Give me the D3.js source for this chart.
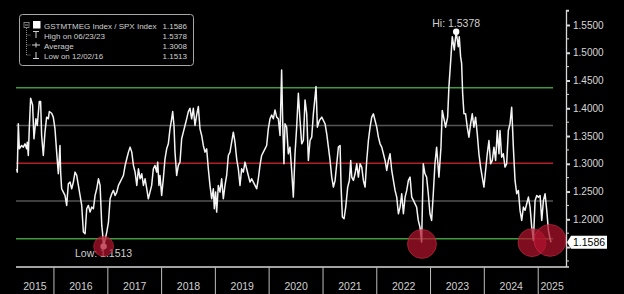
<!DOCTYPE html>
<html>
<head>
<meta charset="utf-8">
<script src="https://cdn.jsdelivr.net/npm/d3@7"></script>
<style>
  body { margin: 0; background: #000; }
  svg { display: block; font-family: "Liberation Sans", Arial, sans-serif; }
  .yAxis path, .yAxis line { stroke: #d8d8d8; }
  .yAxis text { fill: #d8d8d8; font-size: 10px; }
</style>
</head>
<body>
<div id="chart"></div>
<script>

// decimal years and GSTMTMEG / SPX ratio values
var yearFrac = [
  2015.306,2015.318,2015.337,2015.356,2015.399,2015.430,2015.461,2015.492,2015.504,2015.523,
  2015.541,2015.566,2015.603,2015.628,2015.665,2015.690,2015.727,2015.752,2015.771,2015.802,
  2015.833,2015.864,2015.895,2015.914,2015.957,2015.988,2016.019,2016.050,2016.081,2016.112,
  2016.124,2016.143,2016.174,2016.205,2016.236,2016.267,2016.298,2016.329,2016.360,2016.391,
  2016.422,2016.453,2016.484,2016.515,2016.546,2016.577,2016.608,2016.639,2016.670,2016.701,
  2016.732,2016.763,2016.794,2016.825,2016.856,2016.887,2016.900,2016.921,2016.980,2017.011,
  2017.042,2017.073,2017.104,2017.135,2017.166,2017.197,2017.228,2017.259,2017.290,2017.321,
  2017.352,2017.383,2017.414,2017.445,2017.476,2017.507,2017.538,2017.569,2017.600,2017.631,
  2017.662,2017.693,2017.724,2017.753,2017.784,2017.815,2017.846,2017.877,2017.908,2017.927,
  2017.951,2017.970,2018.001,2018.032,2018.063,2018.094,2018.125,2018.156,2018.187,2018.206,
  2018.230,2018.249,2018.280,2018.311,2018.342,2018.373,2018.404,2018.435,2018.466,2018.497,
  2018.528,2018.559,2018.590,2018.621,2018.652,2018.683,2018.714,2018.745,2018.776,2018.807,
  2018.838,2018.869,2018.900,2018.931,2018.962,2018.980,2019.005,2019.024,2019.055,2019.086,
  2019.117,2019.148,2019.179,2019.210,2019.241,2019.272,2019.303,2019.334,2019.365,2019.396,
  2019.427,2019.458,2019.489,2019.520,2019.551,2019.582,2019.613,2019.644,2019.675,2019.706,
  2019.737,2019.768,2019.799,2019.830,2019.861,2019.892,2019.923,2019.954,2019.985,2020.016,
  2020.047,2020.078,2020.109,2020.140,2020.171,2020.202,2020.232,2020.251,2020.275,2020.294,
  2020.325,2020.356,2020.387,2020.418,2020.449,2020.480,2020.511,2020.542,2020.573,2020.604,
  2020.635,2020.666,2020.697,2020.728,2020.759,2020.790,2020.821,2020.870,2020.895,2020.932,
  2020.976,2021.007,2021.038,2021.069,2021.100,2021.131,2021.162,2021.193,2021.224,2021.255,
  2021.286,2021.317,2021.336,2021.360,2021.391,2021.422,2021.459,2021.490,2021.515,2021.534,
  2021.565,2021.596,2021.627,2021.658,2021.689,2021.720,2021.751,2021.782,2021.813,2021.844,
  2021.875,2021.906,2021.937,2021.968,2021.999,2022.030,2022.061,2022.092,2022.123,2022.154,
  2022.185,2022.216,2022.247,2022.278,2022.309,2022.340,2022.371,2022.402,2022.433,2022.464,
  2022.495,2022.526,2022.557,2022.588,2022.619,2022.650,2022.681,2022.741,2022.772,2022.803,
  2022.834,2022.865,2022.896,2022.927,2022.958,2022.989,2023.020,2023.051,2023.082,2023.113,
  2023.132,2023.156,2023.194,2023.218,2023.256,2023.280,2023.318,2023.342,2023.380,2023.404,
  2023.442,2023.460,2023.477,2023.516,2023.534,2023.559,2023.578,2023.597,2023.621,2023.652,
  2023.683,2023.714,2023.745,2023.776,2023.807,2023.838,2023.869,2023.900,2023.931,2023.962,
  2023.993,2024.024,2024.055,2024.086,2024.117,2024.148,2024.179,2024.210,2024.241,2024.272,
  2024.291,2024.322,2024.353,2024.384,2024.415,2024.446,2024.477,2024.508,2024.539,2024.570,
  2024.601,2024.632,2024.663,2024.694,2024.725,2024.756,2024.787,2024.818,2024.849,2024.880,
  2024.911,2024.942,2024.973,2025.004,2025.035,2025.066,2025.097,2025.128,2025.159,2025.190,
  2025.221,2025.238
];

var ratio = [
  1.291,1.285,1.372,1.327,1.333,1.330,1.336,1.327,1.339,1.315,
  1.363,1.418,1.406,1.345,1.381,1.369,1.412,1.412,1.351,1.315,
  1.357,1.384,1.381,1.394,1.391,1.384,1.363,1.321,1.282,1.333,
  1.285,1.255,1.249,1.243,1.225,1.264,1.267,1.255,1.267,1.285,
  1.279,1.261,1.243,1.225,1.177,1.174,1.219,1.225,1.213,1.222,
  1.219,1.243,1.255,1.273,1.261,1.189,1.177,1.1513,1.177,1.195,
  1.237,1.246,1.252,1.243,1.249,1.261,1.267,1.273,1.279,1.297,
  1.309,1.321,1.330,1.321,1.297,1.285,1.261,1.291,1.273,1.282,
  1.261,1.273,1.255,1.237,1.249,1.261,1.291,1.297,1.285,1.303,
  1.261,1.279,1.243,1.273,1.309,1.327,1.336,1.363,1.381,1.394,
  1.369,1.321,1.279,1.297,1.303,1.345,1.357,1.369,1.381,1.394,
  1.400,1.381,1.400,1.369,1.388,1.403,1.363,1.351,1.333,1.321,
  1.327,1.291,1.261,1.237,1.255,1.219,1.249,1.213,1.261,1.249,
  1.273,1.237,1.261,1.279,1.315,1.321,1.339,1.357,1.339,1.309,
  1.291,1.261,1.291,1.285,1.303,1.291,1.279,1.267,1.273,1.267,
  1.261,1.255,1.273,1.297,1.315,1.321,1.327,1.333,1.363,1.381,
  1.388,1.381,1.397,1.384,1.381,1.351,1.469,1.378,1.300,1.372,
  1.366,1.318,1.330,1.288,1.240,1.318,1.366,1.427,1.378,1.336,
  1.342,1.415,1.390,1.306,1.342,1.348,1.390,1.439,1.366,1.378,
  1.384,1.378,1.372,1.354,1.330,1.306,1.276,1.258,1.270,1.300,
  1.330,1.333,1.258,1.204,1.201,1.222,1.258,1.270,1.306,1.276,
  1.270,1.282,1.300,1.276,1.300,1.294,1.270,1.258,1.306,1.342,
  1.366,1.384,1.390,1.378,1.366,1.348,1.336,1.330,1.318,1.306,
  1.288,1.306,1.318,1.288,1.270,1.252,1.240,1.210,1.222,1.246,
  1.210,1.240,1.252,1.270,1.276,1.240,1.234,1.222,1.198,1.186,
  1.159,1.300,1.282,1.276,1.246,1.210,1.198,1.246,1.300,1.330,
  1.306,1.276,1.330,1.396,1.378,1.366,1.384,1.439,1.493,1.529,
  1.505,1.523,1.5378,1.511,1.529,1.493,1.481,1.427,1.390,1.390,
  1.366,1.348,1.372,1.390,1.366,1.384,1.354,1.318,1.294,1.276,
  1.258,1.288,1.318,1.342,1.300,1.306,1.330,1.306,1.360,1.318,
  1.360,1.312,1.318,1.294,1.300,1.360,1.372,1.402,1.330,1.270,
  1.246,1.252,1.216,1.198,1.222,1.216,1.228,1.240,1.222,1.186,
  1.162,1.234,1.243,1.240,1.243,1.198,1.234,1.246,1.216,1.180,
  1.165,1.1586
];

// average and +/- 1 and 2 standard deviation bands
var average = 1.3008;
var sigmaBands = [1.4368, 1.3688, 1.2328, 1.1648];

var legendLabels = ["GSTMTMEG Index / SPX Index", "High on 06/23/23", "Average", "Low on 12/02/16"];
var legendValues = ["1.1586", "1.5378", "1.3008", "1.1513"];

var yearLabels = ["2015","2016","2017","2018","2019","2020","2021","2022","2023","2024","2025"];
// 1.1500 sits under the last-value tag, so only its tick mark is drawn
var yTicks = [1.15, 1.20, 1.25, 1.30, 1.35, 1.40, 1.45, 1.50, 1.55];

var high = { t: 2023.477, v: 1.5378 };
var low = { t: 2016.921, v: 1.1513 };
var last = { t: 2025.238, v: 1.1586 };

// red highlight circles
var circleTimes = [2016.921, 2022.840, 2024.885, 2025.220];
var circleValues = [1.1513, 1.1557, 1.1580, 1.1620];


var W = 624, H = 294;
var plotLeft = 16, axisX = 566, plotBottom = 266.5, plotTop = 10;

function toDate(t) {
    var y = Math.floor(t);
    var a = new Date(y, 0, 1), b = new Date(y + 1, 0, 1);
    return new Date(a.getTime() + (t - y) * (b - a));
}

var data = yearFrac.map(function(t, i) { return { date: toDate(t), v: ratio[i] }; });

var svg = d3.select("#chart").append("svg")
    .attr("width", W)
    .attr("height", H);

svg.append("rect").attr("width", W).attr("height", H).attr("fill", "#000");

var x = d3.scaleTime()
    .domain([toDate(2015.294), toDate(2025.517)])
    .range([plotLeft, axisX]);

var y = d3.scaleLinear()
    .domain([1.115, 1.577])
    .range([plotBottom, plotTop]);

var lineEnd = x(toDate(last.t)) + 2;

// band lines
svg.selectAll(".band")
    .data(sigmaBands).enter()
    .append("line")
    .attr("class", "band")
    .attr("x1", plotLeft).attr("x2", lineEnd)
    .attr("y1", function(d) { return y(d); })
    .attr("y2", function(d) { return y(d); })
    .attr("stroke", function(d, i) { return (i == 0 || i == 3) ? "#3d9a3d" : "#555"; })
    .attr("stroke-width", 1.5);

svg.append("line")
    .attr("x1", plotLeft).attr("x2", lineEnd)
    .attr("y1", y(average)).attr("y2", y(average))
    .attr("stroke", "#b51f24")
    .attr("stroke-width", 1.5);

// the ratio line
var line = d3.line()
    .x(function(d) { return x(d.date); })
    .y(function(d) { return y(d.v); });

svg.append("path")
    .datum(data)
    .attr("d", line)
    .attr("fill", "none")
    .attr("stroke", "#f4f4f4")
    .attr("stroke-width", 1.5)
    .attr("stroke-linejoin", "round");

// high / low dots
[high, low].forEach(function(p) {
    svg.append("circle")
        .attr("cx", x(toDate(p.t)))
        .attr("cy", y(p.v))
        .attr("r", 3.2)
        .attr("fill", "#fff");
});

svg.append("text")
    .attr("x", x(toDate(high.t)))
    .attr("y", y(high.v) - 5)
    .attr("text-anchor", "middle")
    .attr("fill", "#cfcfcf")
    .style("font-size", "10.5px")
    .text("Hi: " + d3.format(".4f")(high.v));

svg.append("text")
    .attr("x", x(toDate(low.t)))
    .attr("y", y(low.v) + 11)
    .attr("text-anchor", "middle")
    .attr("fill", "#cfcfcf")
    .style("font-size", "10.5px")
    .text("Low: " + d3.format(".4f")(low.v));

// red highlight circles
var radii = [10, 14.5, 14, 16];
svg.selectAll(".hl")
    .data(circleTimes).enter()
    .append("circle")
    .attr("class", "hl")
    .attr("cx", function(d) { return x(toDate(d)); })
    .attr("cy", function(d, i) { return y(circleValues[i]); })
    .attr("r", function(d, i) { return radii[i]; })
    .attr("fill", "#b0122c")
    .attr("fill-opacity", 0.72)
    .attr("stroke", "#d8344c")
    .attr("stroke-opacity", 0.5);

// bottom axis line and year separators
svg.append("line")
    .attr("x1", plotLeft).attr("x2", axisX)
    .attr("y1", plotBottom + 0.5).attr("y2", plotBottom + 0.5)
    .attr("stroke", "#d8d8d8").attr("stroke-width", 1.3);

var yearStarts = yearLabels.slice(1).map(function(s) { return new Date(+s, 0, 1); });

svg.selectAll(".ysep")
    .data(yearStarts).enter()
    .append("line")
    .attr("x1", function(d) { return x(d); })
    .attr("x2", function(d) { return x(d); })
    .attr("y1", plotBottom + 0.5).attr("y2", H)
    .attr("stroke", "#bdbdbd").attr("stroke-width", 1);

svg.selectAll(".ylab")
    .data(yearLabels).enter()
    .append("text")
    .attr("x", function(d) {
        var a = Math.max(x(new Date(+d, 0, 1)), plotLeft);
        var b = Math.min(x(new Date(+d + 1, 0, 1)), axisX);
        return (a + b) / 2;
    })
    .attr("y", 290)
    .attr("text-anchor", "middle")
    .attr("fill", "#d0d0d0")
    .style("font-size", "10.5px")
    .text(function(d) { return d; });

// right axis
var yAxis = d3.axisRight(y)
    .tickValues(yTicks)
    .tickFormat(function(d) { return d < 1.175 ? "" : d3.format(".4f")(d); })
    .tickSizeInner(4)
    .tickSizeOuter(3)
    .tickPadding(3);

var gy = svg.append("g")
    .attr("class", "yAxis")
    .attr("transform", "translate(" + axisX + ",0)")
    .call(yAxis);
gy.select(".domain").attr("stroke-width", 1.3);
gy.selectAll(".tick line").attr("stroke-width", 2);

var minor = d3.range(1.125, 1.576, 0.05);
gy.selectAll(".minor")
    .data(minor).enter()
    .append("line")
    .attr("x1", 0).attr("x2", 3)
    .attr("y1", function(d) { return y(d); })
    .attr("y2", function(d) { return y(d); })
    .attr("stroke", "#d8d8d8");

// last value tag
var ty = y(last.v);
svg.append("path")
    .attr("d", "M" + (axisX + 1) + "," + ty + "L" + (axisX + 5) + "," + (ty - 6.5) +
               "H607V" + (ty + 6.5) + "H" + (axisX + 5) + "Z")
    .attr("fill", "#fff");
svg.append("text")
    .attr("x", axisX + 7)
    .attr("y", ty + 3.8)
    .attr("fill", "#000")
    .style("font-size", "10.5px")
    .text(d3.format(".4f")(last.v));

// legend
var lg = svg.append("g").attr("transform", "translate(19,14)");
lg.append("rect")
    .attr("x", 0.5).attr("y", 0.5)
    .attr("width", 174).attr("height", 51)
    .attr("rx", 3)
    .attr("fill", "#000")
    .attr("stroke", "#a8a8a8");

lg.append("rect").attr("x", 5).attr("y", 8.5).attr("width", 5).attr("height", 5)
    .attr("fill", "none").attr("stroke", "#9a9a9a").attr("stroke-width", 0.8);
lg.append("line").attr("x1", 6).attr("x2", 9).attr("y1", 11).attr("y2", 11)
    .attr("stroke", "#bbb").attr("stroke-width", 0.8);
lg.append("rect").attr("x", 14).attr("y", 7).attr("width", 7.5).attr("height", 7.5)
    .attr("fill", "#fff");

lg.append("line").attr("x1", 7.5).attr("x2", 7.5).attr("y1", 14).attr("y2", 41)
    .attr("stroke", "#888").attr("stroke-dasharray", "1,1");

[21, 31, 41].forEach(function(cy) {
    lg.append("line").attr("x1", 7.5).attr("x2", 12).attr("y1", cy).attr("y2", cy)
        .attr("stroke", "#888").attr("stroke-dasharray", "1,1");
});

var sym = lg.append("g").attr("stroke", "#cfcfcf").attr("stroke-width", 1);
sym.append("line").attr("x1", 14).attr("x2", 20).attr("y1", 17.5).attr("y2", 17.5);
sym.append("line").attr("x1", 17).attr("x2", 17).attr("y1", 17.5).attr("y2", 24);
sym.append("line").attr("x1", 13).attr("x2", 21).attr("y1", 31).attr("y2", 31);
sym.append("line").attr("x1", 17).attr("x2", 17).attr("y1", 28.5).attr("y2", 33.5);
sym.append("line").attr("x1", 14).attr("x2", 20).attr("y1", 44.5).attr("y2", 44.5);
sym.append("line").attr("x1", 17).attr("x2", 17).attr("y1", 38).attr("y2", 44.5);

lg.selectAll(".lgl")
    .data(legendLabels).enter()
    .append("text")
    .attr("x", 25)
    .attr("y", function(d, i) { return 14.5 + i * 10; })
    .attr("fill", "#d0d0d0")
    .style("font-size", "8px")
    .text(function(d) { return d; });

lg.selectAll(".lgv")
    .data(legendValues).enter()
    .append("text")
    .attr("x", 168)
    .attr("y", function(d, i) { return 14.5 + i * 10; })
    .attr("text-anchor", "end")
    .attr("fill", "#d0d0d0")
    .style("font-size", "8px")
    .text(function(d) { return d; });

</script>
</body>
</html>
